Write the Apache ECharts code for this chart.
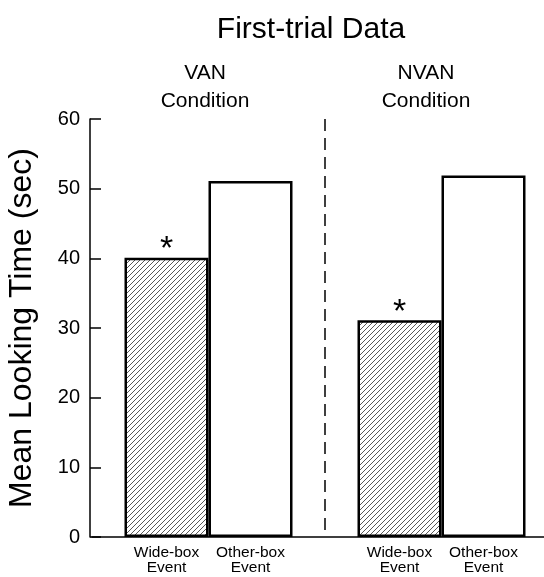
<!DOCTYPE html>
<html>
<head>
<meta charset="utf-8">
<script src="https://cdn.jsdelivr.net/npm/echarts@6/dist/echarts.min.js"></script>
<style>
  html, body { margin: 0; padding: 0; background: #fff; }
  #root { width: 544px; height: 577px; }
</style>
</head>
<body>
<div id="root"></div>
<script>
// 数据
var conditions = ['VAN', 'NVAN'];
var conditionLabels = ['VAN\nCondition', 'NVAN\nCondition'];
var wideBox = [40.1, 31.1];
var otherBox = [51.1, 51.9];
var yTicks = [0, 10, 20, 30, 40, 50, 60];

var FONT = 'Liberation Sans';

// 斜线填充
function hatch() {
  var c = document.createElement('canvas');
  c.width = 5; c.height = 5;
  var ctx = c.getContext('2d');
  ctx.fillStyle = '#fff';
  ctx.fillRect(0, 0, 5, 5);
  ctx.strokeStyle = '#444';
  ctx.lineWidth = 0.9;
  ctx.beginPath();
  ctx.moveTo(-1, 6); ctx.lineTo(6, -1);
  ctx.moveTo(-1, 1); ctx.lineTo(1, -1);
  ctx.moveTo(4, 6); ctx.lineTo(6, 4);
  ctx.stroke();
  return c;
}

var option = {
  animation: false,
  backgroundColor: '#fff',
  textStyle: { fontFamily: FONT, color: '#000' },
  graphic: [
    { type: 'text', x: 311, y: 30, style: { text: 'First-trial Data', textAlign: 'center', textVerticalAlign: 'middle', font: '30px ' + FONT, fill: '#000' } },
    { type: 'text', x: 205, y: 87, style: { text: conditionLabels[0], textAlign: 'center', textVerticalAlign: 'middle', font: '21px ' + FONT, lineHeight: 28, fill: '#000' } },
    { type: 'text', x: 426, y: 87, style: { text: conditionLabels[1], textAlign: 'center', textVerticalAlign: 'middle', font: '21px ' + FONT, lineHeight: 28, fill: '#000' } }
  ],
  grid: { left: 92, right: -14, top: 119, bottom: 40, outerBoundsMode: 'none' },
  xAxis: {
    type: 'category',
    data: conditions,
    axisLine: { lineStyle: { color: '#000', width: 1.5 } },
    axisTick: { show: false },
    axisLabel: { show: false },
    splitLine: {
      show: true,
      showMinLine: false,
      showMaxLine: false,
      lineStyle: { color: '#000', width: 1.5, type: [12, 7] }
    }
  },
  yAxis: {
    type: 'value',
    min: 0,
    max: 60,
    interval: 10,
    offset: 2,
    name: 'Mean Looking Time (sec)',
    nameLocation: 'middle',
    nameGap: 52,
    nameTextStyle: { fontSize: 32, color: '#000', fontFamily: FONT },
    axisLine: { show: true, lineStyle: { color: '#000', width: 1.5 } },
    axisTick: { show: true, inside: true, length: 11, lineStyle: { color: '#000', width: 1.5 } },
    axisLabel: {
      fontSize: 20, color: '#000', margin: 10, fontFamily: FONT,
      formatter: function (v) { return yTicks.indexOf(v) >= 0 ? String(v) : ''; }
    },
    splitLine: { show: false }
  },
  series: [
    {
      name: 'Wide-box Event',
      type: 'bar',
      barWidth: 84,
      barGap: '0%',
      data: wideBox,
      itemStyle: { color: { image: hatch(), repeat: 'repeat' }, borderColor: '#000', borderWidth: 2.5 },
      label: { show: true, position: 'bottom', distance: 8, formatter: 'Wide-box\nEvent', fontSize: 15.5, lineHeight: 15, color: '#000', fontFamily: FONT },
      markPoint: {
        symbol: 'circle',
        symbolSize: 0,
        label: { show: true, position: 'inside', offset: [0, -8], formatter: '*', fontSize: 34, color: '#000', fontFamily: FONT },
        data: conditions.map(function (c, i) { return { coord: [c, wideBox[i]] }; })
      }
    },
    {
      name: 'Other-box Event',
      type: 'bar',
      barWidth: 84,
      data: otherBox,
      itemStyle: { color: '#fff', borderColor: '#000', borderWidth: 2.5 },
      label: { show: true, position: 'bottom', distance: 8, formatter: 'Other-box\nEvent', fontSize: 15.5, lineHeight: 15, color: '#000', fontFamily: FONT }
    }
  ]
};

var myChart = echarts.init(document.getElementById('root'));
myChart.setOption(option);
</script>
</body>
</html>
